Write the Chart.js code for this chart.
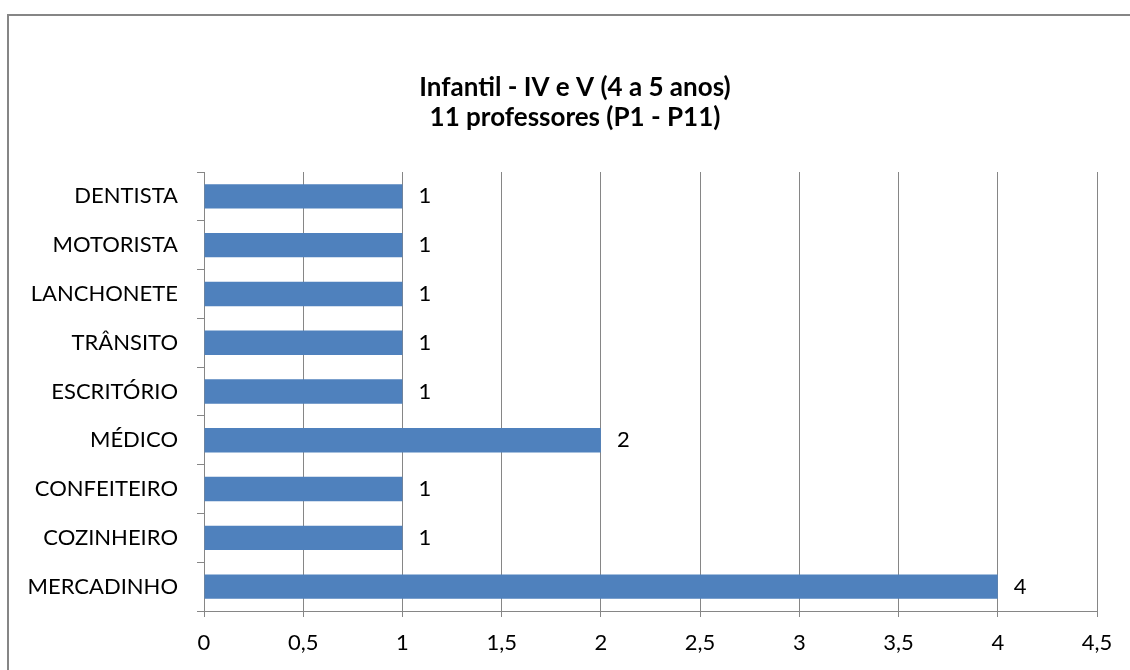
<!DOCTYPE html>
<html>
<head>
<meta charset="utf-8">
<script src="https://cdn.jsdelivr.net/npm/chart.js@4"></script>
<style>
html,body{margin:0;padding:0;background:#fff;}
#wrap{position:relative;width:1130px;height:670px;}
canvas{display:block;}
</style>
</head>
<body>
<div id="wrap"><canvas id="c" width="1130" height="670"></canvas></div>
<script>
const categories = ["DENTISTA","MOTORISTA","LANCHONETE","TRÂNSITO","ESCRITÓRIO","MÉDICO","CONFEITEIRO","COZINHEIRO","MERCADINHO"];
const values = [1,1,1,1,1,2,1,1,4];
const titleLines = ["Infantil - IV e V (4 a 5 anos)", "11 professores (P1 - P11)"];
const xMin = 0, xMax = 4.5, xStep = 0.5;

const FONT = "Lato, 'Open Sans', sans-serif";
const GRID = "#868686";

const framePlugin = {
  id: 'frame',
  afterDraw(chart) {
    const ctx = chart.ctx;
    ctx.save();
    ctx.strokeStyle = GRID;
    ctx.lineWidth = 2;
    ctx.beginPath();
    ctx.moveTo(8, 670);
    ctx.lineTo(8, 15);
    ctx.lineTo(1130, 15);
    ctx.stroke();
    // title centred over the chart frame
    ctx.font = "bold 26px " + FONT;
    ctx.fillStyle = "#000";
    ctx.textAlign = "center";
    ctx.textBaseline = "middle";
    titleLines.forEach((t, i) => ctx.fillText(t, 575, 88 + i * 30));
    ctx.restore();
  }
};

const labelPlugin = {
  id: 'barLabels',
  afterDatasetsDraw(chart) {
    const ctx = chart.ctx;
    const meta = chart.getDatasetMeta(0);
    ctx.save();
    ctx.font = "22px " + FONT;
    ctx.fillStyle = "#000";
    ctx.textAlign = "left";
    ctx.textBaseline = "middle";
    meta.data.forEach((bar, i) => {
      ctx.fillText(String(values[i]), bar.x + 16, bar.y);
    });
    ctx.restore();
  }
};

new Chart(document.getElementById('c'), {
  type: 'bar',
  data: {
    labels: categories,
    datasets: [{
      data: values,
      backgroundColor: '#4f81bd',
      borderWidth: 0,
      categoryPercentage: 1.0,
      barPercentage: 0.5
    }]
  },
  options: {
    indexAxis: 'y',
    responsive: false,
    animation: false,
    layout: { padding: { left: 0, right: 33, top: 172, bottom: 0 } },
    plugins: {
      legend: { display: false },
      tooltip: { enabled: false },
      title: { display: false }
    },
    scales: {
      x: {
        type: 'linear',
        min: xMin, max: xMax,
        ticks: {
          stepSize: xStep,
          color: '#000',
          font: { family: FONT, size: 22 },
          padding: 13,
          callback: v => String(v).replace('.', ',')
        },
        grid: { color: GRID, lineWidth: 1, tickLength: 6, drawOnChartArea: true },
        border: { color: GRID, width: 1 },
        afterFit(scale) { scale.height = 59; }
      },
      y: {
        type: 'category',
        offset: true,
        ticks: { color: '#000', font: { family: FONT, size: 22 }, padding: 19 },
        grid: { offset: true, drawOnChartArea: false, color: GRID, tickLength: 7 },
        border: { color: GRID, width: 1 },
        afterFit(scale) { scale.width = 204; }
      }
    }
  },
  plugins: [labelPlugin, framePlugin]
});
</script>
</body>
</html>
